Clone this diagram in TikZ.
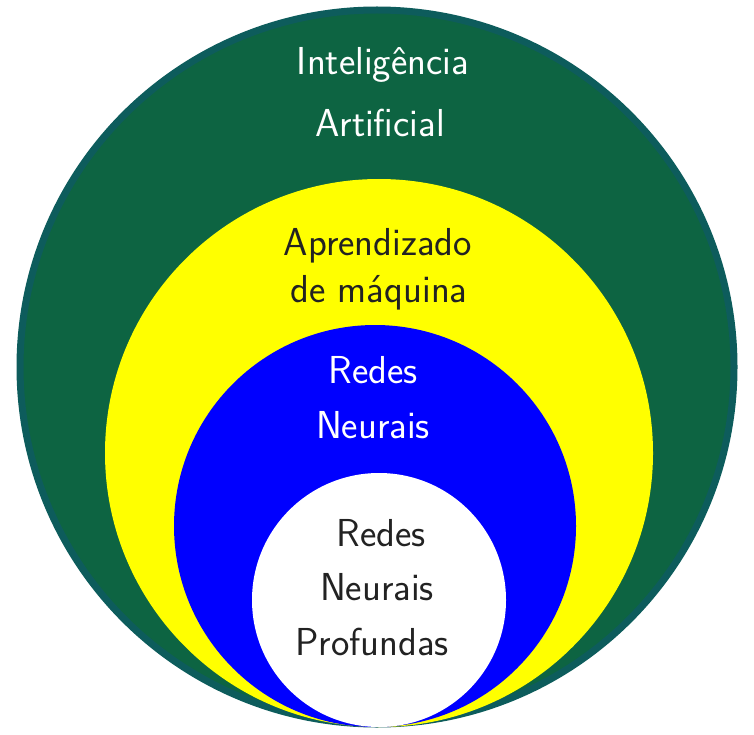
\documentclass[tikz,border=0pt]{standalone}
\usepackage{tikz}
\usetikzlibrary{positioning}
\definecolor{iagreen}{RGB}{13,100,66}
\definecolor{iaborder}{RGB}{13,92,92}
\definecolor{amyellow}{RGB}{255,255,0}
\definecolor{rnblue}{RGB}{0,0,255}
\definecolor{darktext}{RGB}{34,34,34}
\begin{document}
\begin{tikzpicture}[x=1pt,y=-1pt,
                    area/.style={circle,inner sep=0pt,minimum size=#1},
                    label text/.style={anchor=base,inner sep=0pt,font=\fontsize{39}{46}\selectfont\sffamily}]

  \useasboundingbox (0,0) rectangle (754,735);

  \node[area=714pt,fill=iagreen,draw=iaborder,line width=7pt] (ia) at (377,367) {};
  \node[area=548pt,fill=amyellow] (am) at (379,453) {};
  \node[area=402pt,fill=rnblue] (rn) at (375,526) {};
  \node[area=254pt,fill=white] (rnp) at (379,600) {};

  \node[label text,text=white] (ia1) at (383,75) {Inteligência};
  \node[label text,text=white] (ia2) at (380,137) {Artificial};
  \node[label text,text=darktext] (am1) at (378,255) {Aprendizado};
  \node[label text,text=darktext] (am2) at (379,302) {de máquina};
  \node[label text,text=white] (rn1) at (373,383) {Redes};
  \node[label text,text=white] (rn2) at (373,438) {Neurais};
  \node[label text,text=darktext] (rnp1) at (381,546) {Redes};
  \node[label text,text=darktext] (rnp2) at (377,600) {Neurais};
  \node[label text,text=darktext] (rnp3) at (372,655) {Profundas};

\end{tikzpicture}
\end{document}
